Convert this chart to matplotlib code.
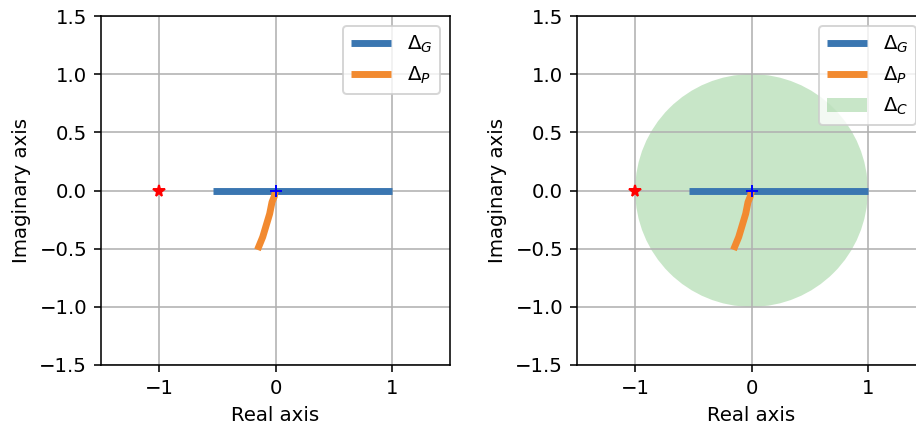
import numpy as np
import matplotlib.pyplot as plt
from matplotlib.patches import Circle

# Delta_G segment on the real axis
g_re = [-0.54, 1.0]
g_im = [0.0, 0.0]
# Delta_P curve
p_re = [0.0, -0.01, -0.03, -0.05, -0.08, -0.11, -0.155]
p_im = [0.0, -0.05, -0.1, -0.2, -0.3, -0.4, -0.51]
# critical point and origin
crit = (-1.0, 0.0)
origin = (0.0, 0.0)
# Delta_C disc
c_center = (0.0, 0.0)
c_radius = 1.0

xticks = [-1, 0, 1]
yticks = [-1.5, -1.0, -0.5, 0.0, 0.5, 1.0, 1.5]

dpi = 142
fig = plt.figure(figsize=(916/dpi, 426/dpi), dpi=dpi)
ax1 = fig.add_axes([101/916, 61/426, 349/916, 349/426])
ax2 = fig.add_axes([577/916, 61/426, 349/916, 349/426])

for i, ax in enumerate([ax1, ax2]):
    ax.plot(g_re, g_im, color='#3a76b1', lw=3.5, solid_capstyle='butt', label=r'$\Delta_G$')
    ax.plot(p_re, p_im, color='#f28a30', lw=3.5, solid_capstyle='butt', label=r'$\Delta_P$')
    if i == 1:
        ax.add_patch(Circle(c_center, c_radius, color='C2', alpha=0.26, lw=0, label=r'$\Delta_C$'))
    ax.plot(*crit, marker='*', color='red', ms=6, ls='none')
    ax.plot(*origin, marker='+', color='blue', ms=6, ls='none')
    ax.set_xlim(-1.5, 1.5)
    ax.set_ylim(-1.5, 1.5)
    ax.set_xticks(xticks)
    ax.set_yticks(yticks)
    ax.grid(True)
    ax.set_xlabel('Real axis')
    ax.set_ylabel('Imaginary axis')
    ax.legend(loc='upper right')

fig.savefig('out.png', dpi=dpi)
